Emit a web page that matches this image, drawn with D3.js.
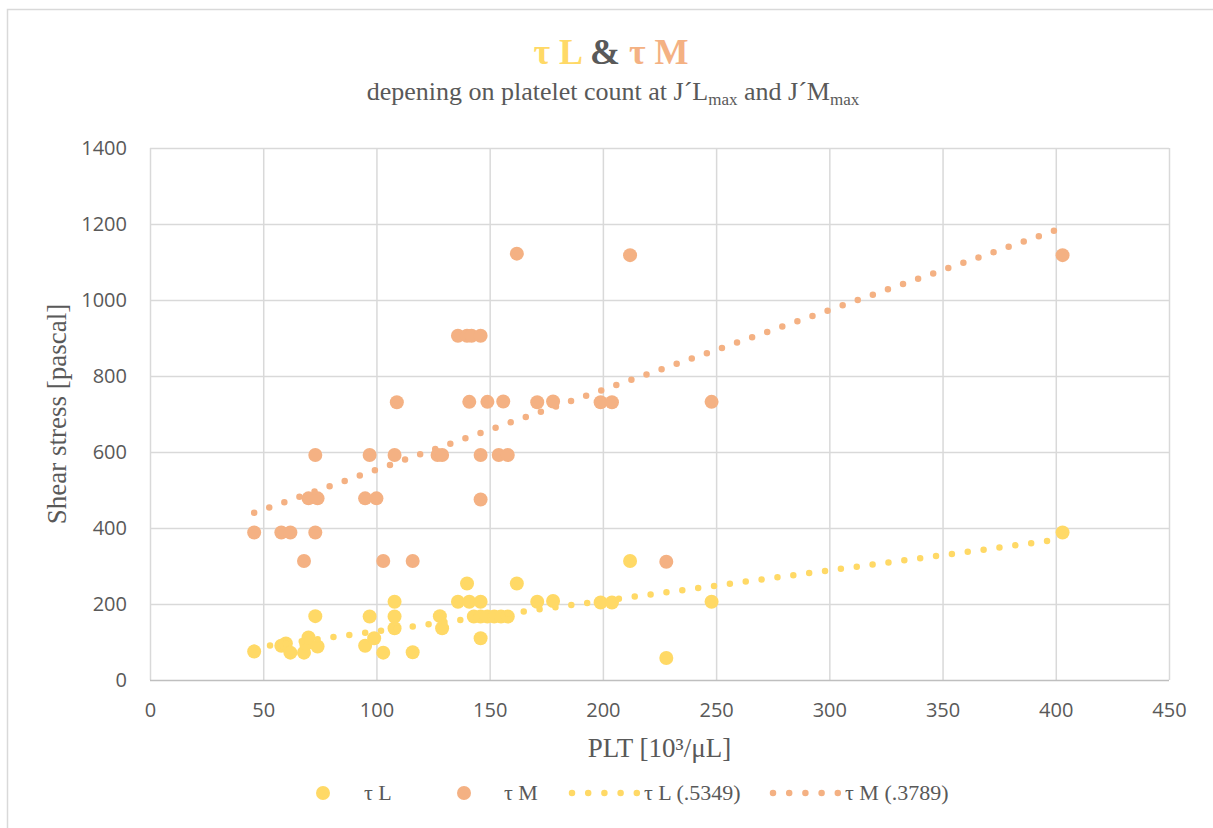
<!DOCTYPE html>
<html>
<head>
<meta charset="utf-8">
<script src="https://cdn.jsdelivr.net/npm/d3@7"></script>
<style>
  body { margin: 0; background: #fff; }
  text { font-family: "Liberation Serif", "Times New Roman", serif; }
  .tick text { font-family: "Open Sans", sans-serif; }
</style>
</head>
<body>
<div id="chart"></div>
<script>
// τL points (PLT, pascal)
var tauLX = [46, 58, 60, 62, 68, 69, 70, 73, 74, 95, 97, 99, 103, 108, 108, 108, 116, 128, 129,
  136, 140, 141, 143, 146, 146, 146, 149, 152, 155, 158, 162, 171, 178, 199, 204, 212, 228, 248, 403]
var tauLY = [75, 90, 96, 72, 72, 95, 112, 168, 88, 90, 167, 110, 72, 206, 167, 136, 73, 168, 136,
  206, 254, 206, 167, 206, 167, 110, 167, 167, 167, 167, 254, 206, 208, 204, 204, 313, 58, 206, 388]

// τM points
var tauMX = [46, 58, 62, 73, 68, 70, 74, 73, 95, 100, 97, 108, 109, 103, 116, 127, 129,
  136, 140, 142, 146, 141, 149, 156, 146, 154, 158, 146, 162, 171, 178, 199, 204, 212, 228, 248, 403]
var tauMY = [388, 388, 388, 388, 313, 478, 478, 592, 478, 478, 592, 592, 731, 313, 313, 592, 592,
  906, 906, 906, 906, 732, 732, 733, 592, 592, 592, 475, 1122, 731, 733, 731, 731, 1118, 311, 732, 1118]

// trendlines (read at ends of the data range)
var trendLX = [46, 403]
var trendLY = [85, 371]
var trendMX = [46, 403]
var trendMY = [440, 1190]

var xTicks = [0, 50, 100, 150, 200, 250, 300, 350, 400, 450]
var yTicks = [0, 200, 400, 600, 800, 1000, 1200, 1400]

var colL = "#FFD966"
var colM = "#F4B183"

var width = 1213, height = 828
var margin = { top: 148, right: 44, bottom: 148, left: 150 }
var plotW = width - margin.left - margin.right
var plotH = height - margin.top - margin.bottom

var svg = d3.select("#chart").append("svg")
  .attr("width", width)
  .attr("height", height)

svg.append("rect")
  .attr("x", 7.5).attr("y", 9.5)
  .attr("width", width).attr("height", height)
  .attr("fill", "#fff")
  .attr("stroke", "#d9d9d9")
  .attr("stroke-width", 1.5)

var xScale = d3.scaleLinear().domain([0, 450]).range([0, plotW])
var yScale = d3.scaleLinear().domain([0, 1400]).range([plotH, 0])

var bounds = svg.append("g")
  .attr("transform", `translate(${margin.left},${margin.top})`)

// grid + axes
var xAxis = bounds.append("g")
  .attr("transform", `translate(0,${plotH})`)
  .call(d3.axisBottom(xScale).tickValues(xTicks).tickSize(-plotH).tickPadding(23).tickFormat(d3.format("d")))
var yAxis = bounds.append("g")
  .call(d3.axisLeft(yScale).tickValues(yTicks).tickSize(-plotW).tickPadding(23).tickFormat(d3.format("d")))

bounds.selectAll(".domain").remove()
bounds.selectAll(".tick line").attr("stroke", "#d9d9d9").attr("stroke-width", 1.5)
yAxis.selectAll(".tick line").filter(d => d == 0).attr("stroke", "#bfbfbf")
bounds.selectAll(".tick text")
  .attr("fill", "#595959")
  .style("font-size", "20px")

// points
var dataL = tauLX.map((x, i) => ({ x: x, y: tauLY[i] }))
var dataM = tauMX.map((x, i) => ({ x: x, y: tauMY[i] }))

bounds.selectAll(".ptL").data(dataL).enter().append("circle")
  .attr("class", "ptL")
  .attr("cx", d => xScale(d.x)).attr("cy", d => yScale(d.y))
  .attr("r", 7).attr("fill", colL)

bounds.selectAll(".ptM").data(dataM).enter().append("circle")
  .attr("class", "ptM")
  .attr("cx", d => xScale(d.x)).attr("cy", d => yScale(d.y))
  .attr("r", 7).attr("fill", colM)

// dotted trendlines
var lineGen = d3.line().x(d => xScale(d[0])).y(d => yScale(d[1]))
bounds.append("path")
  .attr("d", lineGen(trendLX.map((x, i) => [x, trendLY[i]])))
  .attr("fill", "none").attr("stroke", colL)
  .attr("stroke-width", 6.5).attr("stroke-linecap", "round")
  .attr("stroke-dasharray", "0 16")
bounds.append("path")
  .attr("d", lineGen(trendMX.map((x, i) => [x, trendMY[i]])))
  .attr("fill", "none").attr("stroke", colM)
  .attr("stroke-width", 6.5).attr("stroke-linecap", "round")
  .attr("stroke-dasharray", "0 16")

// title
var title = svg.append("text")
  .attr("x", 611).attr("y", 64)
  .attr("text-anchor", "middle")
  .style("font-size", "36px").style("font-weight", "bold")
title.append("tspan").attr("fill", colL).text("τ L ")
title.append("tspan").attr("fill", "#595959").text("& ")
title.append("tspan").attr("fill", colM).text("τ M")

var sub = svg.append("text")
  .attr("x", 613).attr("y", 100)
  .attr("text-anchor", "middle")
  .attr("fill", "#595959")
  .style("font-size", "26px")
sub.append("tspan").text("depening on platelet count at J´L")
sub.append("tspan").attr("dy", 5).style("font-size", "17px").text("max")
sub.append("tspan").attr("dy", -5).text(" and J´M")
sub.append("tspan").attr("dy", 5).style("font-size", "17px").text("max")

// axis titles
svg.append("text")
  .attr("x", margin.left + plotW / 2).attr("y", 757)
  .attr("text-anchor", "middle").attr("fill", "#595959")
  .style("font-size", "27px")
  .text("PLT [10³/μL]")

svg.append("text")
  .attr("transform", `translate(66,${margin.top + plotH / 2}) rotate(-90)`)
  .attr("text-anchor", "middle").attr("fill", "#595959")
  .style("font-size", "27px")
  .text("Shear stress [pascal]")

// legend
var legend = svg.append("g").attr("transform", "translate(0,793)")
legend.append("circle").attr("cx", 323).attr("r", 7).attr("fill", colL)
legend.append("text").attr("x", 364).attr("y", 7).attr("fill", "#595959")
  .style("font-size", "22px").text("τ L")
legend.append("circle").attr("cx", 464).attr("r", 7).attr("fill", colM)
legend.append("text").attr("x", 504).attr("y", 7).attr("fill", "#595959")
  .style("font-size", "22px").text("τ M")
legend.append("path").attr("d", "M572,0H637")
  .attr("stroke", colL).attr("stroke-width", 6.5).attr("stroke-linecap", "round")
  .attr("stroke-dasharray", "0 16.2")
legend.append("text").attr("x", 644).attr("y", 7).attr("fill", "#595959")
  .style("font-size", "22px").text("τ L (.5349)")
legend.append("path").attr("d", "M773,0H838")
  .attr("stroke", colM).attr("stroke-width", 6.5).attr("stroke-linecap", "round")
  .attr("stroke-dasharray", "0 16.2")
legend.append("text").attr("x", 845).attr("y", 7).attr("fill", "#595959")
  .style("font-size", "22px").text("τ M (.3789)")
</script>
</body>
</html>
